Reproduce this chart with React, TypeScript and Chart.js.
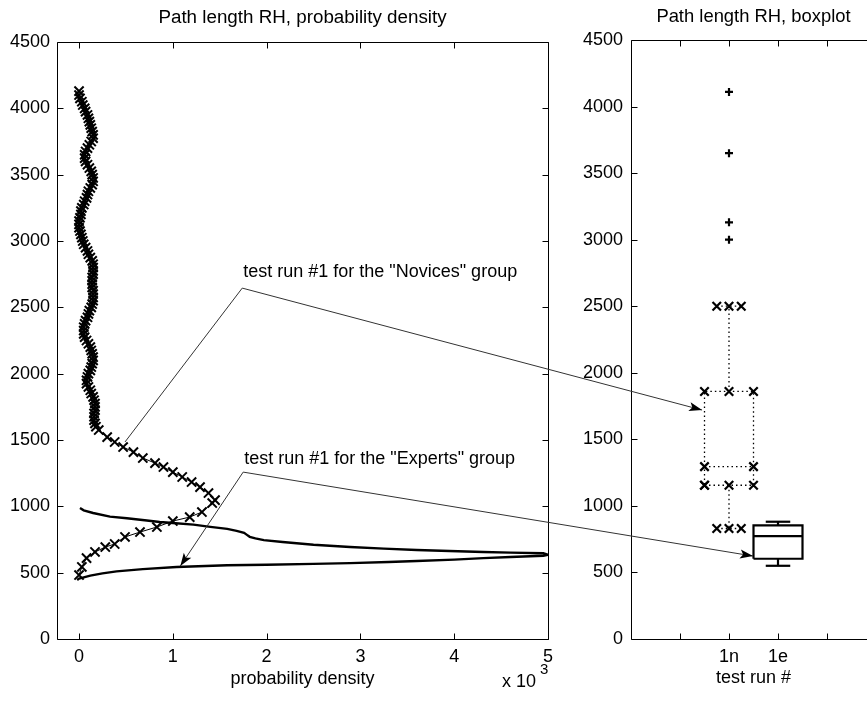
import React, { useEffect, useRef } from 'react';
import { Chart, registerables } from 'chart.js';

Chart.register(...registerables);

const FONT = '"Liberation Sans", Arial, Helvetica, sans-serif';

// ---------- Left panel: probability density (x in units of 1e-3) ----------
const densityTicks = [0, 1, 2, 3, 4, 5];
const pathTicks = [0, 500, 1000, 1500, 2000, 2500, 3000, 3500, 4000, 4500];

const noviceDensity = [
  0.0, 0.03, 0.08, 0.17, 0.28, 0.38, 0.49, 0.65, 0.83, 1.0, 1.18, 1.31, 1.42, 1.45,
  1.38, 1.29, 1.2, 1.1, 1.0, 0.9, 0.81, 0.68, 0.58, 0.47, 0.38, 0.3, 0.21,
  0.18, 0.17, 0.16, 0.16, 0.16, 0.17, 0.17, 0.17, 0.16, 0.15, 0.13, 0.12, 0.1, 0.08, 0.08, 0.09, 0.1, 0.12, 0.13, 0.14,
  0.15, 0.15, 0.14, 0.13, 0.12, 0.1, 0.08, 0.06, 0.05, 0.05, 0.05, 0.06, 0.07, 0.09, 0.1, 0.11, 0.13, 0.14, 0.15, 0.15,
  0.15, 0.15, 0.14, 0.14, 0.14, 0.14, 0.15, 0.15, 0.15, 0.15, 0.14, 0.12, 0.1, 0.09, 0.07, 0.05, 0.04, 0.03, 0.02, 0.01,
  0.0, 0.0, 0.0, 0.01, 0.02, 0.02, 0.03, 0.05, 0.06, 0.08, 0.09, 0.1, 0.12, 0.14, 0.15, 0.15, 0.14, 0.13, 0.11, 0.09,
  0.07, 0.06, 0.06, 0.07, 0.09, 0.11, 0.13, 0.15, 0.15, 0.14, 0.13, 0.12, 0.11, 0.1, 0.09, 0.07, 0.06, 0.04, 0.03, 0.01,
  0.0, 0.0,
];
const noviceLength = [
  482, 543, 610, 656, 693, 716, 769, 806, 844, 889, 919, 957, 1025, 1047,
  1100, 1145, 1183, 1221, 1258, 1296, 1326, 1364, 1409, 1447, 1485, 1522, 1575,
  1600, 1625, 1650, 1675, 1700, 1725, 1750, 1775, 1800, 1825, 1850, 1875, 1900, 1925, 1950, 1975, 2000, 2025, 2050, 2075,
  2100, 2125, 2150, 2175, 2200, 2225, 2250, 2275, 2300, 2325, 2350, 2375, 2400, 2425, 2450, 2475, 2500, 2525, 2550, 2575,
  2600, 2625, 2650, 2675, 2700, 2725, 2750, 2775, 2800, 2825, 2850, 2875, 2900, 2925, 2950, 2975, 3000, 3025, 3050, 3075,
  3100, 3125, 3150, 3175, 3200, 3225, 3250, 3275, 3300, 3325, 3350, 3375, 3400, 3425, 3450, 3475, 3500, 3525, 3550, 3575,
  3600, 3625, 3650, 3675, 3700, 3725, 3750, 3775, 3800, 3825, 3850, 3875, 3900, 3925, 3950, 3975, 4000, 4025, 4050, 4075,
  4100, 4130,
];

const expertDensity = [
  -0.02, 0.0, 0.05, 0.12, 0.25, 0.4, 0.68, 1.04, 1.58, 2.0, 2.5, 2.89, 3.3, 3.6, 4.0, 4.31, 4.6, 4.95, 5.0,
  4.95, 4.6, 4.31, 3.95, 3.6, 3.25, 2.89, 2.5, 2.17, 1.97, 1.88, 1.82, 1.79, 1.76, 1.68, 1.58, 1.4, 1.22, 1.0, 0.86, 0.7, 0.51, 0.33,
  0.15, 0.05, 0.01,
];
const expertLength = [
  445, 455, 465, 478, 495, 510, 527, 543, 556, 560, 566, 572, 580, 588, 598, 610, 618, 627, 635,
  646, 651, 656, 663, 671, 681, 693, 710, 731, 745, 758, 770, 785, 800, 815, 830, 845, 862, 874, 882, 895, 910, 922,
  950, 970, 987,
];

// ---------- Right panel: boxplots ----------
const runTicks = [1, 2, 3, 4];
const boxPositions = [2, 3];
const boxLabels = ['1n', '1e'];
const boxLowerWhisker = [830, 550];
const boxQ1 = [1155, 603];
const boxMedian = [1295, 773];
const boxQ3 = [1860, 853];
const boxUpperWhisker = [2500, 881];
const noviceOutliers = [3000, 3130, 3650, 4110];

// ---------- Annotations (data coordinates) ----------
const noviceNoteAnchor = [1.74, 2645];
const noviceNoteCurvePoint = [0.49, 1485];
const noviceNoteBoxPoint = [1.45, 1720];
const expertNoteAnchor = [1.75, 1258];
const expertNoteCurvePoint = [1.08, 550];
const expertNoteBoxPoint = [2.49, 623];
const noviceNoteText = 'test run #1 for the "Novices" group';
const expertNoteText = 'test run #1 for the "Experts" group';

const pts = (xs: number[], ys: number[]) => xs.map((x, i) => ({ x, y: ys[i] }));

function drawFrame(chart: any) {
  const { ctx, chartArea, scales } = chart;
  const { left, right, top, bottom } = chartArea;
  const L = Math.round(left) + 0.5;
  const R = Math.round(right) + 0.5;
  const T = Math.round(top) + 0.5;
  const B = Math.round(bottom) + 0.5;
  ctx.save();
  ctx.strokeStyle = '#000';
  ctx.lineWidth = 1;
  ctx.setLineDash([]);
  ctx.beginPath();
  ctx.rect(L, T, R - L, B - T);
  ctx.stroke();
  const tl = 6;
  ctx.beginPath();
  scales.x.ticks.forEach((t: any) => {
    const px = Math.round(scales.x.getPixelForValue(t.value)) + 0.5;
    ctx.moveTo(px, B);
    ctx.lineTo(px, B - tl);
    ctx.moveTo(px, T);
    ctx.lineTo(px, T + tl);
  });
  scales.y.ticks.forEach((t: any) => {
    const py = Math.round(scales.y.getPixelForValue(t.value)) + 0.5;
    ctx.moveTo(L, py);
    ctx.lineTo(L + tl, py);
    ctx.moveTo(R, py);
    ctx.lineTo(R - tl, py);
  });
  ctx.stroke();
  ctx.restore();
}

function drawText(ctx: any, text: string, x: number, y: number, align: string, size = 18) {
  ctx.save();
  ctx.fillStyle = '#000';
  ctx.font = `${size}px ${FONT}`;
  ctx.textAlign = align;
  ctx.textBaseline = 'alphabetic';
  ctx.fillText(text, x, y);
  ctx.restore();
}

function arrowHead(ctx: any, from: number[], to: number[]) {
  const ang = Math.atan2(to[1] - from[1], to[0] - from[0]);
  ctx.save();
  ctx.translate(to[0], to[1]);
  ctx.rotate(ang);
  ctx.fillStyle = '#000';
  ctx.beginPath();
  ctx.moveTo(0, 0);
  ctx.lineTo(-13, -4.5);
  ctx.lineTo(-10, 0);
  ctx.lineTo(-13, 4.5);
  ctx.closePath();
  ctx.fill();
  ctx.restore();
}

const leftPlugin = {
  id: 'leftFrame',
  afterDraw(chart: any) {
    drawFrame(chart);
    const { ctx, chartArea } = chart;
    const cx = (chartArea.left + chartArea.right) / 2;
    drawText(ctx, 'Path length RH, probability density', cx, 23, 'center', 18.8);
    drawText(ctx, 'probability density', cx, 684, 'center');
    drawText(ctx, 'x 10', chartArea.right - 46, 687, 'left');
    drawText(ctx, '3', chartArea.right - 8, 674, 'left', 15);
  },
};

function boxDatasets(i: number, novice: boolean) {
  const p = boxPositions[i];
  const segs = [
    [[p - 0.5, boxQ1[i]], [p + 0.5, boxQ1[i]], [p + 0.5, boxQ3[i]], [p - 0.5, boxQ3[i]], [p - 0.5, boxQ1[i]]],
    [[p - 0.5, boxMedian[i]], [p + 0.5, boxMedian[i]]],
    [[p, boxQ3[i]], [p, boxUpperWhisker[i]]],
    [[p - 0.25, boxUpperWhisker[i]], [p + 0.25, boxUpperWhisker[i]]],
    [[p, boxQ1[i]], [p, boxLowerWhisker[i]]],
    [[p - 0.25, boxLowerWhisker[i]], [p + 0.25, boxLowerWhisker[i]]],
  ];
  return segs.map((s) => ({
    data: s.map(([x, y]) => ({ x, y })),
    showLine: true,
    borderColor: '#000',
    backgroundColor: '#000',
    borderWidth: novice ? 1.3 : 2.2,
    borderDash: novice ? [1.5, 3] : [],
    pointStyle: 'crossRot',
    pointRadius: novice ? 6 : 0,
    pointBorderWidth: 2.2,
    pointBorderColor: '#000',
    clip: false,
  }));
}

export default function App() {
  const leftRef = useRef<HTMLCanvasElement>(null);
  const rightRef = useRef<HTMLCanvasElement>(null);

  useEffect(() => {
    Chart.defaults.font.family = FONT;
    Chart.defaults.font.size = 18;
    Chart.defaults.color = '#000';

    const left = new Chart(leftRef.current as HTMLCanvasElement, {
      type: 'scatter',
      data: {
        datasets: [
          {
            data: pts(expertDensity, expertLength),
            showLine: true,
            borderColor: '#000',
            borderWidth: 2.4,
            pointRadius: 0,
          },
          {
            data: pts(noviceDensity, noviceLength),
            showLine: true,
            borderColor: '#000',
            borderWidth: 1,
            pointStyle: 'crossRot',
            pointRadius: 6.5,
            pointBorderWidth: 2,
            pointBorderColor: '#000',
          },
        ],
      },
      options: {
        animation: false,
        responsive: false,
        events: [],
        layout: { padding: { left: 0, top: 42, right: 900 - 548, bottom: 0 } },
        plugins: { legend: { display: false }, tooltip: { enabled: false }, title: { display: false } },
        scales: {
          x: {
            type: 'linear',
            min: -0.235,
            max: 5,
            afterBuildTicks: (s: any) => {
              s.ticks = densityTicks.map((value) => ({ value }));
            },
            afterFit: (s: any) => {
              s.height = 63;
            },
            grid: { display: false, drawTicks: false },
            border: { display: false },
            ticks: { padding: 7, color: '#000', font: { size: 18 }, autoSkip: false, maxRotation: 0, callback: (v: any) => String(v) },
          },
          y: {
            type: 'linear',
            min: 0,
            max: 4500,
            afterBuildTicks: (s: any) => {
              s.ticks = pathTicks.map((value) => ({ value }));
            },
            afterFit: (s: any) => {
              s.width = 57;
            },
            grid: { display: false, drawTicks: false },
            border: { display: false },
            ticks: { padding: 7, color: '#000', font: { size: 18 }, autoSkip: false, callback: (v: any) => String(v) },
          },
        },
      } as any,
      plugins: [leftPlugin],
    });

    const rightPlugin = {
      id: 'rightFrame',
      afterDraw(chart: any) {
        drawFrame(chart);
        const { ctx, chartArea } = chart;
        const cx = (chartArea.left + chartArea.right) / 2;
        drawText(ctx, 'Path length RH, boxplot', cx, 22, 'center', 18.4);
        drawText(ctx, 'test run #', cx, 683, 'center');

        const Ls = left.scales as any;
        const Rs = chart.scales;
        const lp = (d: number[]) => [Ls.x.getPixelForValue(d[0]), Ls.y.getPixelForValue(d[1])];
        const rp = (d: number[]) => [Rs.x.getPixelForValue(d[0]), Rs.y.getPixelForValue(d[1])];

        ctx.save();
        ctx.strokeStyle = '#333';
        ctx.lineWidth = 1;
        const A = lp(noviceNoteAnchor);
        const B = lp(noviceNoteCurvePoint);
        const C = rp(noviceNoteBoxPoint);
        ctx.beginPath();
        ctx.moveTo(B[0], B[1]);
        ctx.lineTo(A[0], A[1]);
        ctx.lineTo(C[0], C[1]);
        ctx.stroke();
        arrowHead(ctx, A, C);

        const D = lp(expertNoteAnchor);
        const E = lp(expertNoteCurvePoint);
        const F = rp(expertNoteBoxPoint);
        ctx.beginPath();
        ctx.moveTo(E[0], E[1]);
        ctx.lineTo(D[0], D[1]);
        ctx.lineTo(F[0], F[1]);
        ctx.stroke();
        arrowHead(ctx, D, E);
        arrowHead(ctx, D, F);
        ctx.restore();

        drawText(ctx, noviceNoteText, A[0] + 1, A[1] - 11, 'left');
        drawText(ctx, expertNoteText, D[0] + 1, D[1] - 8, 'left');
      },
    };

    const right = new Chart(rightRef.current as HTMLCanvasElement, {
      type: 'scatter',
      data: {
        datasets: [
          ...boxDatasets(0, true),
          ...boxDatasets(1, false),
          {
            data: noviceOutliers.map((y) => ({ x: boxPositions[0], y })),
            showLine: false,
            pointStyle: 'cross',
            pointRadius: 4,
            pointBorderWidth: 2.2,
            pointBorderColor: '#000',
          },
        ],
      },
      options: {
        animation: false,
        responsive: false,
        events: [],
        layout: { padding: { left: 571, top: 40, right: 24, bottom: 0 } },
        plugins: { legend: { display: false }, tooltip: { enabled: false }, title: { display: false } },
        scales: {
          x: {
            type: 'linear',
            min: 0,
            max: 5,
            afterBuildTicks: (s: any) => {
              s.ticks = runTicks.map((value) => ({ value }));
            },
            afterFit: (s: any) => {
              s.height = 63;
            },
            grid: { display: false, drawTicks: false },
            border: { display: false },
            ticks: {
              padding: 7,
              color: '#000',
              font: { size: 18 },
              autoSkip: false,
              maxRotation: 0,
              callback: (v: any) => {
                const i = boxPositions.indexOf(v);
                return i >= 0 ? boxLabels[i] : '';
              },
            },
          },
          y: {
            type: 'linear',
            min: 0,
            max: 4500,
            afterBuildTicks: (s: any) => {
              s.ticks = pathTicks.map((value) => ({ value }));
            },
            afterFit: (s: any) => {
              s.width = 60;
            },
            grid: { display: false, drawTicks: false },
            border: { display: false },
            ticks: { padding: 8, color: '#000', font: { size: 18 }, autoSkip: false, callback: (v: any) => String(v) },
          },
        },
      } as any,
      plugins: [rightPlugin],
    });

    return () => {
      right.destroy();
      left.destroy();
    };
  }, []);

  return (
    <div
      style={{
        position: 'fixed',
        left: 0,
        top: 0,
        width: 867,
        height: 702,
        overflow: 'hidden',
        background: '#fff',
      }}
    >
      <canvas ref={leftRef} width={900} height={702} style={{ position: 'absolute', left: 0, top: 0 }} />
      <canvas ref={rightRef} width={900} height={702} style={{ position: 'absolute', left: 0, top: 0 }} />
    </div>
  );
}
